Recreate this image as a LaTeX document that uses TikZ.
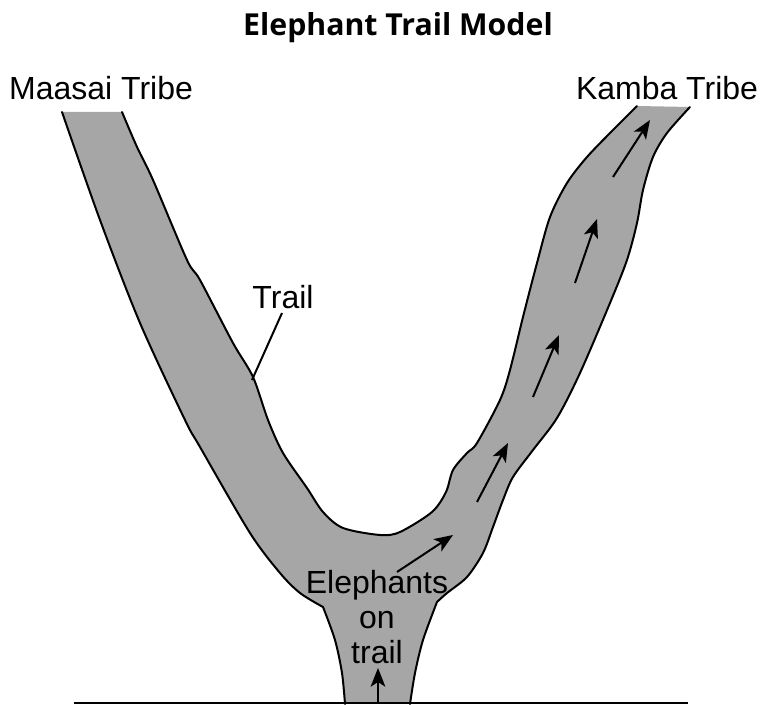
\documentclass[tikz,border=0pt]{standalone}
\usepackage{fontspec}
\setmainfont{Liberation Sans}
\newfontfamily\titlefont{Open Sans}
\usetikzlibrary{arrows.meta}
\definecolor{trailgray}{HTML}{A6A6A6}
\begin{document}
\begin{tikzpicture}[x=0.75pt,y=-0.75pt,
  outline/.style={line width=1.5pt, line join=round, line cap=round},
  walk/.style={line width=1.5pt, -{Stealth[length=14pt,width=11pt,inset=3.5pt]}},
  lbl/.style={font=\fontsize{24}{26}\selectfont, inner sep=0pt, align=center},
  ttl/.style={font=\titlefont\bfseries\fontsize{22.7}{26}\selectfont, inner sep=0pt}]
\useasboundingbox (0,0) rectangle (761,705);

% trail fill
\fill[trailgray]
  plot[smooth] coordinates {(62,112) (100,220) (140,323) (185,420) (200,447) (250,533) (280,573) (300,593) (323,607)}
  -- plot[smooth] coordinates {(323,607) (335,640) (342,673) (345,704)}
  -- (410,704)
  -- plot[smooth] coordinates {(410,704) (415,673) (423,640) (437,602)}
  -- plot[smooth] coordinates {(437,602) (447,593) (467,577) (483,553) (493,527) (503,500) (513,477) (533,450) (557,418) (580,373) (610,303) (627,260) (637,223) (643,190) (653,157) (667,133) (690,107)}
  -- (637,106)
  -- plot[smooth] coordinates {(637,106) (613,130) (587,157) (567,183) (550,217) (537,263) (523,317) (510,370) (500,400) (477,443) (467,453) (453,470) (446,492) (432,512) (400,532) (380,535) (343,528) (323,512) (307,488) (283,453) (268,420) (253,377) (233,343) (200,280) (187,260) (153,180) (137,147) (122,112)}
  -- cycle;

% outlines
\draw[outline]
  plot[smooth] coordinates {(62,112) (100,220) (140,323) (185,420) (200,447) (250,533) (280,573) (300,593) (323,607)}
  -- plot[smooth] coordinates {(323,607) (335,640) (342,673) (345,704)};
\draw[outline]
  plot[smooth] coordinates {(410,704) (415,673) (423,640) (437,602)}
  -- plot[smooth] coordinates {(437,602) (447,593) (467,577) (483,553) (493,527) (503,500) (513,477) (533,450) (557,418) (580,373) (610,303) (627,260) (637,223) (643,190) (653,157) (667,133) (690,107)};
\draw[outline]
  plot[smooth] coordinates {(637,106) (613,130) (587,157) (567,183) (550,217) (537,263) (523,317) (510,370) (500,400) (477,443) (467,453) (453,470) (446,492) (432,512) (400,532) (380,535) (343,528) (323,512) (307,488) (283,453) (268,420) (253,377) (233,343) (200,280) (187,260) (153,180) (137,147) (122,112)};

% ground
\coordinate (gl) at (74,703);
\coordinate (gr) at (688,703);
\draw[line width=1.5pt] (gl) -- (gr);

% arrows
\coordinate (a1s) at (613,177); \coordinate (a1e) at (650,120);
\coordinate (a2s) at (575,283); \coordinate (a2e) at (597,219);
\coordinate (a3s) at (533,397); \coordinate (a3e) at (559,335);
\coordinate (a4s) at (477,502); \coordinate (a4e) at (508,443);
\coordinate (a5s) at (397,572); \coordinate (a5e) at (453,535);
\coordinate (a6s) at (378,703); \coordinate (a6e) at (378,668);
\foreach \i in {1,...,6} \draw[walk] (a\i s) -- (a\i e);

% labels
\node[ttl] (title) at (398,28) {Elephant Trail Model};
\node[lbl] (maasai) at (101,88) {Maasai Tribe};
\node[lbl] (kamba) at (667,88) {Kamba Tribe};
\node[lbl] (trail) at (283,297) {Trail};
\coordinate (trailpt) at (252,380);
\draw[line width=1.5pt] (282,313) -- (trailpt);
\node[lbl] (eleph) at (377,617) {Elephants\\on\\trail};
\end{tikzpicture}
\end{document}
